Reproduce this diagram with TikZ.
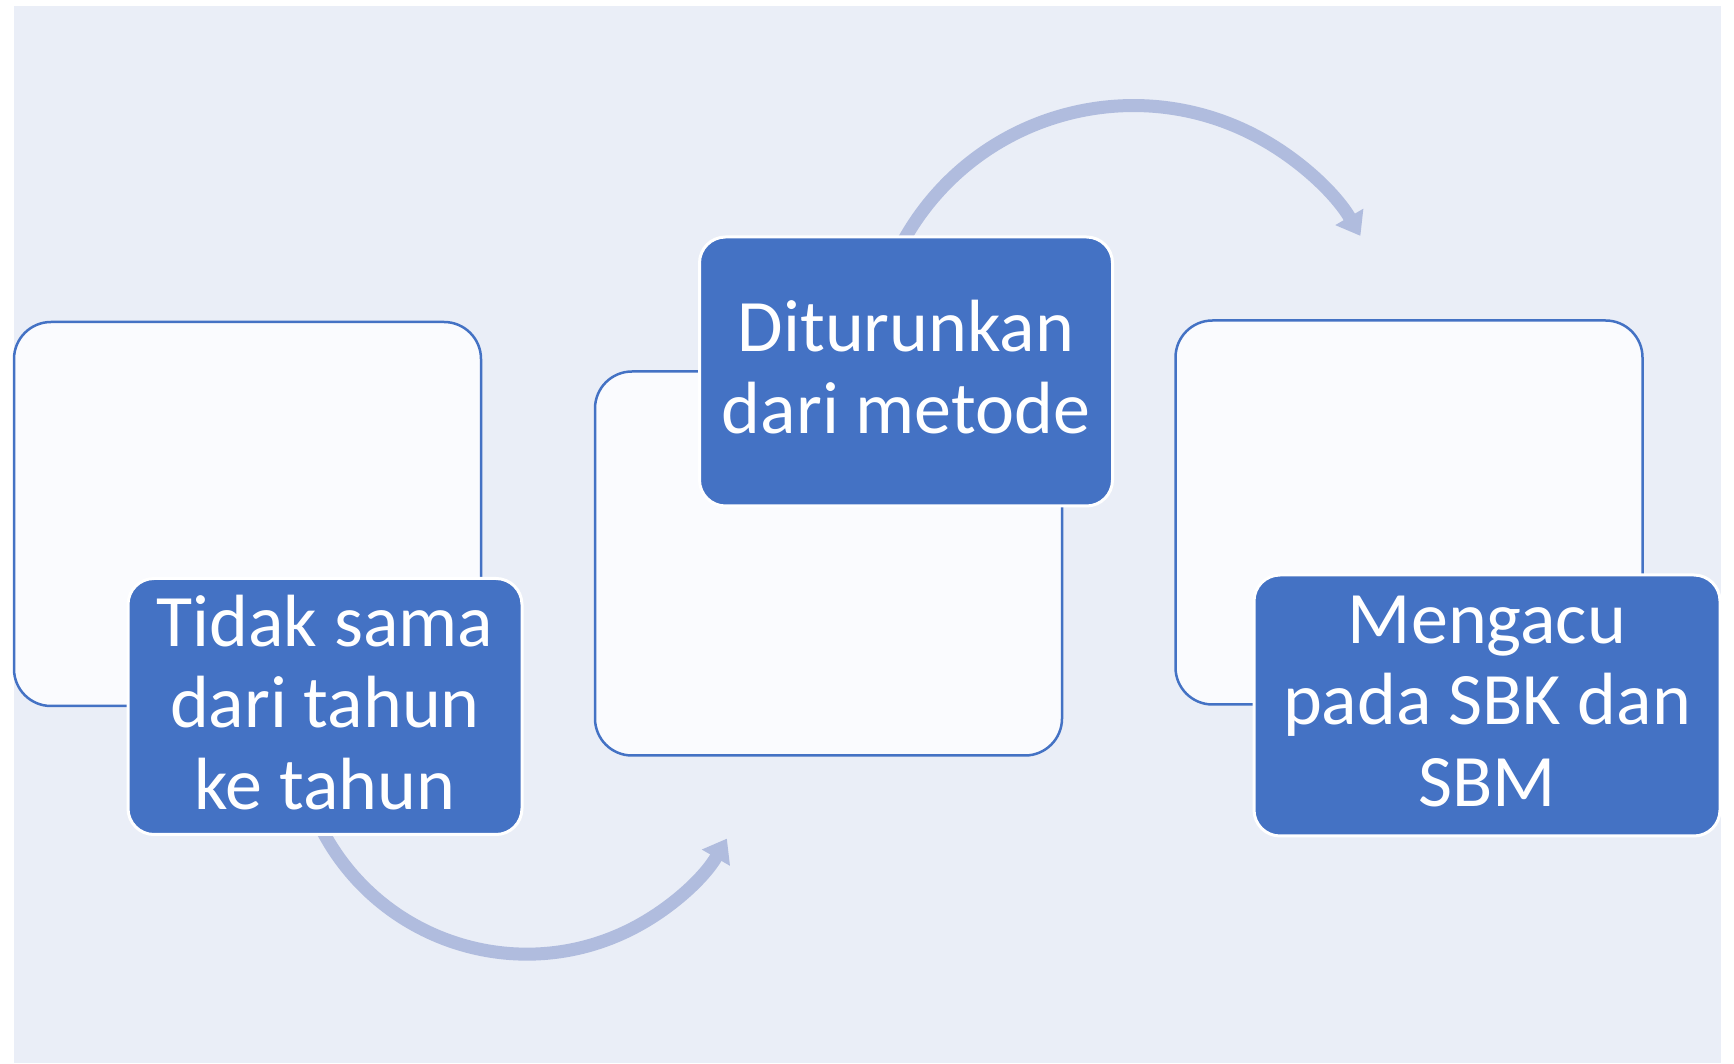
\documentclass[tikz,border=0pt]{standalone}
\usepackage{fontspec}
\setmainfont{Carlito}
\usepackage{tikz}
\usetikzlibrary{shapes, arrows.meta}
\definecolor{accent}{RGB}{68,114,196}
\definecolor{paper}{RGB}{234,238,247}
\definecolor{card}{RGB}{250,251,254}
\definecolor{flow}{RGB}{176,188,222}
\pgfdeclarelayer{back}
\pgfdeclarelayer{arcs}
\pgfsetlayers{back,arcs,main}
\tikzstyle{panel} = [draw=accent, fill=card, rectangle, rounded corners=37pt, line width=2.5pt, minimum width=467pt, minimum height=384pt, inner sep=0pt]
\tikzstyle{caption} = [draw=white, fill=accent, rectangle, rounded corners=26pt, line width=3pt, text=white, align=center, inner sep=0pt, font=\fontsize{74pt}{81.5pt}\selectfont, execute at begin node={\rule{0pt}{64pt}}, execute at end node={\rule[-9pt]{0pt}{9pt}}]
\tikzstyle{turn} = [draw=flow, line width=13pt, -{Triangle[width=31pt, length=22pt]}]

\begin{document}
\begin{tikzpicture}[x=1pt, y=1pt, node distance=581pt]
  \useasboundingbox (0,0) rectangle (1734,1063);

  \begin{pgfonlayer}{back}
    \fill [paper] (14,0) rectangle (1721,1057);
    \node [panel] (left) at (247.5,549) {};
    \node [panel, right of=left, yshift=-49.5pt] (middle) {};
    \node [panel, right of=middle, node distance=580.5pt, yshift=51pt] (right) {};
  \end{pgfonlayer}

  \node [caption, below of=left, node distance=192.5pt, xshift=77.5pt, minimum width=394pt, minimum height=256pt] (tahun) {Tidak sama\\dari tahun\\ke tahun};
  \node [caption, above of=middle, node distance=192pt, xshift=77.5pt, minimum width=413pt, minimum height=269pt] (metode) {Diturunkan\\dari metode};
  \node [caption, below of=right, node distance=193pt, xshift=78pt, minimum width=466pt, minimum height=261pt] (acuan) {Mengacu\\pada SBK dan\\SBM};

  % curved arrows, tucked under the captions
  \begin{pgfonlayer}{arcs}
    \draw [turn] ([shift={(-4pt,8pt)}]tahun.south) arc [start angle=207, end angle=330, radius=231pt];
    \draw [turn] ([shift={(-4pt,-8pt)}]metode.north) arc [start angle=151.6, end angle=30.3, radius=263pt];
  \end{pgfonlayer}
\end{tikzpicture}
\end{document}
